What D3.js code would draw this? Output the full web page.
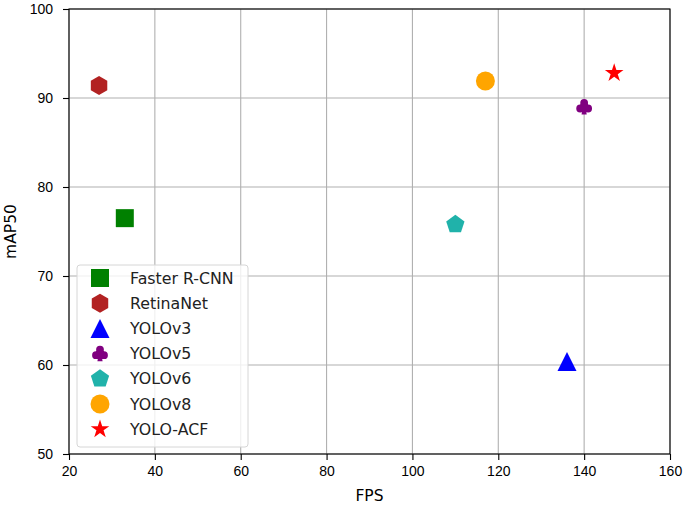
<!DOCTYPE html>
<html>
<head>
<meta charset="utf-8">
<script src="https://cdn.jsdelivr.net/npm/d3@7"></script>
<style>
  body { margin: 0; background: #fff; }
  svg { font-family: "DejaVu Sans", sans-serif; }
  .tick text { font-size: 14px; fill: #000; }
</style>
</head>
<body>
<svg id="scatter" width="685" height="505"></svg>
<script>
let width = 685;
let height = 505;
let margin = { top: 9, right: 15, bottom: 51, left: 69 };

// data
let models = ["Faster R-CNN", "RetinaNet", "YOLOv3", "YOLOv5", "YOLOv6", "YOLOv8", "YOLO-ACF"];
let fps = [33, 27, 136, 140, 110, 117, 147];
let map50 = [76.5, 91.4, 60.4, 89.0, 75.8, 91.9, 92.8];
let colors = ["green", "firebrick", "blue", "purple", "lightseagreen", "orange", "red"];
let shapes = ["square", "hexagon", "triangle", "club", "pentagon", "circle", "star"];

let xTicks = [20, 40, 60, 80, 100, 120, 140, 160];
let yTicks = [50, 60, 70, 80, 90, 100];

let svg = d3.select("#scatter");

let x = d3.scaleLinear()
    .domain([20, 160])
    .range([margin.left, width - margin.right]);

let y = d3.scaleLinear()
    .domain([50, 100])
    .range([height - margin.bottom, margin.top]);

// marker paths, centred on 0,0
function polygon(n, r, rot) {
  let p = d3.path();
  for (let i = 0; i < n; i++) {
    let a = rot + i * 2 * Math.PI / n;
    let px = r * Math.sin(a), py = -r * Math.cos(a);
    if (i == 0) p.moveTo(px, py); else p.lineTo(px, py);
  }
  p.closePath();
  return p.toString();
}

function markerPath(shape) {
  if (shape == "square") return "M-9,-9H9V9H-9Z";
  if (shape == "circle") return d3.symbol(d3.symbolCircle, Math.PI * 9.5 * 9.5)();
  if (shape == "hexagon") return polygon(6, 9.5, 0);
  if (shape == "pentagon") return polygon(5, 9.6, 0);
  if (shape == "triangle") return "M0,-9.5L9.5,9.5H-9.5Z";
  if (shape == "star") {
    let p = d3.path();
    for (let i = 0; i < 10; i++) {
      let r = i % 2 == 0 ? 9.8 : 9.8 * 0.382;
      let a = i * Math.PI / 5;
      let px = r * Math.sin(a), py = -r * Math.cos(a);
      if (i == 0) p.moveTo(px, py); else p.lineTo(px, py);
    }
    p.closePath();
    return p.toString();
  }
  if (shape == "club") {
    let p = d3.path();
    let lobe = 3.9;
    [[0, -3.9], [-4.0, 1.6], [4.0, 1.6]].forEach(c => {
      p.moveTo(c[0] + lobe, c[1]);
      p.arc(c[0], c[1], lobe, 0, 2 * Math.PI);
    });
    p.moveTo(-1.2, 0);
    p.lineTo(1.2, 0);
    p.lineTo(2.6, 7.6);
    p.lineTo(-2.6, 7.6);
    p.closePath();
    return p.toString();
  }
}

// grid
svg.append("g")
    .selectAll("line")
    .data(xTicks)
    .join("line")
    .attr("x1", d => x(d)).attr("x2", d => x(d))
    .attr("y1", y(50)).attr("y2", y(100))
    .attr("stroke", "#b0b0b0")
    .attr("stroke-width", 1.1);

svg.append("g")
    .selectAll("line")
    .data(yTicks)
    .join("line")
    .attr("y1", d => y(d)).attr("y2", d => y(d))
    .attr("x1", x(20)).attr("x2", x(160))
    .attr("stroke", "#b0b0b0")
    .attr("stroke-width", 1.1);

// frame
svg.append("rect")
    .attr("x", x(20))
    .attr("y", y(100))
    .attr("width", x(160) - x(20))
    .attr("height", y(50) - y(100))
    .attr("fill", "none")
    .attr("stroke", "#000")
    .attr("stroke-width", 1.1);

let xAxis = svg.append("g")
    .attr("transform", `translate(0,${y(50)})`)
    .call(d3.axisBottom(x).tickValues(xTicks).tickSize(6).tickPadding(6))
    .call(g => g.select(".domain").remove());

let yAxis = svg.append("g")
    .attr("transform", `translate(${x(20)},0)`)
    .call(d3.axisLeft(y).tickValues(yTicks).tickSize(6).tickPadding(10))
    .call(g => g.select(".domain").remove());

svg.selectAll(".tick line").attr("stroke", "#000").attr("stroke-width", 1.1);

// axis titles
svg.append("text")
    .attr("x", (x(20) + x(160)) / 2)
    .attr("y", 501)
    .attr("text-anchor", "middle")
    .style("font-size", "15.5px")
    .text("FPS");

svg.append("text")
    .attr("transform", `translate(16,${(y(50) + y(100)) / 2}) rotate(-90)`)
    .attr("text-anchor", "middle")
    .style("font-size", "15.5px")
    .text("mAP50");

// points
let points = models.map((m, i) => ({ name: m, fps: fps[i], map: map50[i], color: colors[i], shape: shapes[i] }));

svg.append("g")
    .selectAll("path")
    .data(points)
    .join("path")
    .attr("transform", d => `translate(${x(d.fps)},${y(d.map)})`)
    .attr("d", d => markerPath(d.shape))
    .attr("fill", d => d.color);

// legend
let legend = svg.append("g").attr("transform", "translate(77,265)");

legend.append("rect")
    .attr("width", 171)
    .attr("height", 182)
    .attr("rx", 3)
    .attr("fill", "#fff")
    .attr("fill-opacity", 0.8)
    .attr("stroke", "#d6d6d6")
    .attr("stroke-width", 1);

let rows = legend.selectAll("g.row")
    .data(points)
    .join("g")
    .attr("class", "row")
    .attr("transform", (d, i) => `translate(0,${13 + i * 25.2})`);

rows.append("path")
    .attr("transform", "translate(23,0)")
    .attr("d", d => markerPath(d.shape))
    .attr("fill", d => d.color);

rows.append("text")
    .attr("x", 53)
    .attr("dy", "0.35em")
    .style("font-size", "15.8px")
    .attr("fill", "#222")
    .text(d => d.name);
</script>
</body>
</html>
